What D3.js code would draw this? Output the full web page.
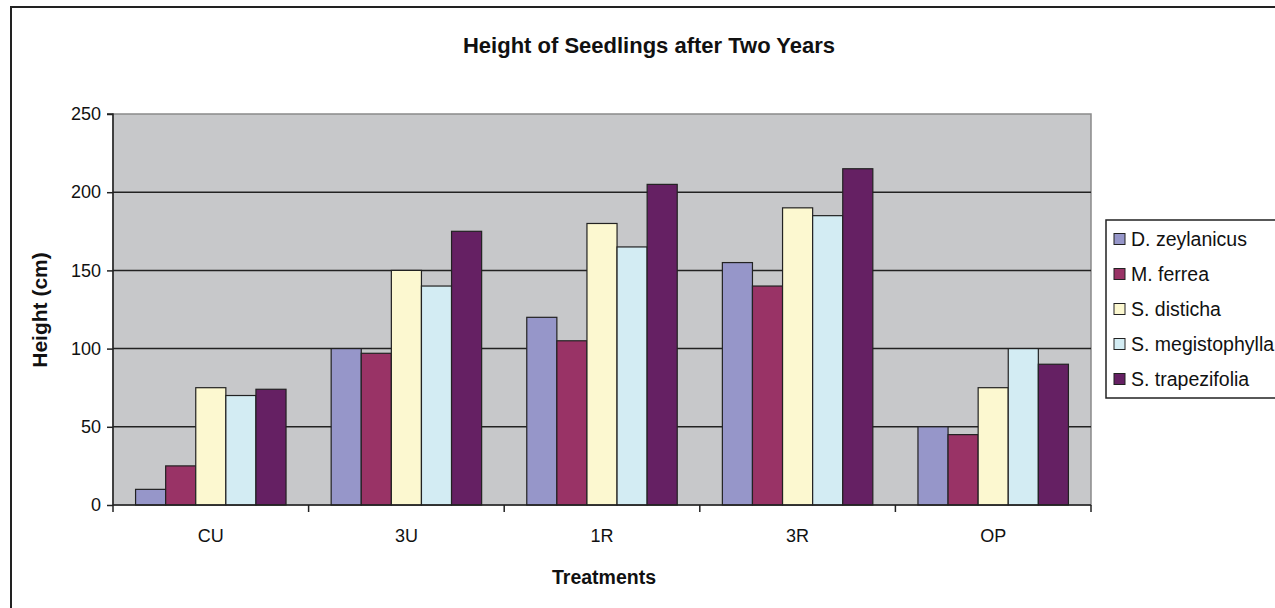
<!DOCTYPE html>
<html><head><meta charset="utf-8">
<script src="https://cdn.jsdelivr.net/npm/d3@7"></script>
<style>body{margin:0;background:#fff}svg{display:block}text{font-family:Arial,"Liberation Sans",sans-serif}</style>
</head><body>
<script>
const categories = ["CU","3U","1R","3R","OP"];
const seriesNames = ["D. zeylanicus","M. ferrea","S. disticha","S. megistophylla","S. trapezifolia"];
const dZeylanicus = [10,100,120,155,50];
const mFerrea = [25,97,105,140,45];
const sDisticha = [75,150,180,190,75];
const sMegistophylla = [70,140,165,185,100];
const sTrapezifolia = [74,175,205,215,90];
const seriesColors = ["#9696C9","#993366","#FCF8D0","#D3ECF3","#652063"];
const yTicks = [0,50,100,150,200,250];

const seriesValues = [dZeylanicus,mFerrea,sDisticha,sMegistophylla,sTrapezifolia];
const W = 1275, H = 608;
const svg = d3.select("body").append("svg").attr("width",W).attr("height",H);

// outer chart border
svg.append("rect").attr("x",11).attr("y",7).attr("width",W+20).attr("height",H+20)
  .attr("fill","#fff").attr("stroke","#222").attr("stroke-width",2);

const L = 113, R = 1091, T = 114, B = 505;
const x0 = d3.scaleBand().domain(categories).range([L,R]).padding(0);
const bw = x0.bandwidth()/6.5;
const x1 = d3.scaleBand().domain(seriesNames).range([0.75*bw, 5.75*bw]).padding(0);
const y = d3.scaleLinear().domain([0,250]).range([B,T]);

// plot background
svg.append("rect").attr("x",L).attr("y",T).attr("width",R-L).attr("height",B-T)
  .attr("fill","#C7C8CA").attr("stroke","#8a8a8a").attr("stroke-width",1.5);

// gridlines
svg.append("g").selectAll("line").data(yTicks.filter(d=>d>0 && d<250)).join("line")
  .attr("x1",L).attr("x2",R).attr("y1",d=>y(d)).attr("y2",d=>y(d))
  .attr("stroke","#222").attr("stroke-width",1.5);

// bars
const groups = svg.append("g").selectAll("g").data(categories).join("g")
  .attr("transform",c=>`translate(${x0(c)},0)`);
groups.selectAll("rect").data((c,ci)=>seriesNames.map((s,si)=>({s,si,v:seriesValues[si][ci]}))).join("rect")
  .attr("x",d=>x1(d.s)).attr("width",x1.bandwidth())
  .attr("y",d=>y(d.v)).attr("height",d=>B-y(d.v))
  .attr("fill",d=>seriesColors[d.si]).attr("stroke","#222").attr("stroke-width",1.2);

// y axis
const yAxis = d3.axisLeft(y).tickValues(yTicks).tickSize(6).tickPadding(6);
const gy = svg.append("g").attr("transform",`translate(${L},0)`).call(yAxis);
gy.select(".domain").attr("stroke","#222").attr("stroke-width",1.5).attr("d",`M-6,${T}H0V${B}`);
gy.selectAll(".tick line").attr("stroke","#222").attr("stroke-width",1.5);
gy.selectAll(".tick text").attr("font-size",18).attr("fill","#111").attr("font-family","Arial, 'Liberation Sans', sans-serif");

// x axis
const gx = svg.append("g").attr("transform",`translate(0,${B})`);
gx.append("line").attr("x1",L).attr("x2",R).attr("y1",0).attr("y2",0).attr("stroke","#222").attr("stroke-width",1.5);
const bounds = categories.map(c=>x0(c)).concat([R]);
gx.selectAll("line.tk").data(bounds).join("line").attr("class","tk")
  .attr("x1",d=>d).attr("x2",d=>d).attr("y1",0).attr("y2",7).attr("stroke","#222").attr("stroke-width",1.5);
gx.selectAll("text").data(categories).join("text")
  .attr("x",c=>x0(c)+x0.bandwidth()/2).attr("y",37).attr("text-anchor","middle")
  .attr("font-size",18).attr("fill","#111").text(c=>c);

// titles
svg.append("text").attr("x",649).attr("y",53).attr("text-anchor","middle")
  .attr("font-size",22).attr("font-weight","bold").attr("fill","#111").text("Height of Seedlings after Two Years");
svg.append("text").attr("x",604).attr("y",584).attr("text-anchor","middle")
  .attr("font-size",19.5).attr("font-weight","bold").attr("fill","#111").text("Treatments");
svg.append("text").attr("transform","translate(47,310) rotate(-90)").attr("text-anchor","middle")
  .attr("font-size",21).attr("font-weight","bold").attr("fill","#111").text("Height (cm)");

// legend
const lg = svg.append("g");
lg.append("rect").attr("x",1106).attr("y",220).attr("width",200).attr("height",178)
  .attr("fill","#fff").attr("stroke","#222").attr("stroke-width",1.5);
const ly = d3.scalePoint().domain(seriesNames).range([239,379]);
lg.selectAll("rect.sw").data(seriesNames).join("rect").attr("class","sw")
  .attr("x",1114).attr("y",s=>ly(s)-5.5).attr("width",11).attr("height",11)
  .attr("fill",(s,i)=>seriesColors[i]).attr("stroke","#222").attr("stroke-width",1);
lg.selectAll("text").data(seriesNames).join("text")
  .attr("x",1131).attr("y",s=>ly(s)).attr("dy","0.35em")
  .attr("font-size",19.5).attr("fill","#111").text(s=>s);
</script>
</body></html>
